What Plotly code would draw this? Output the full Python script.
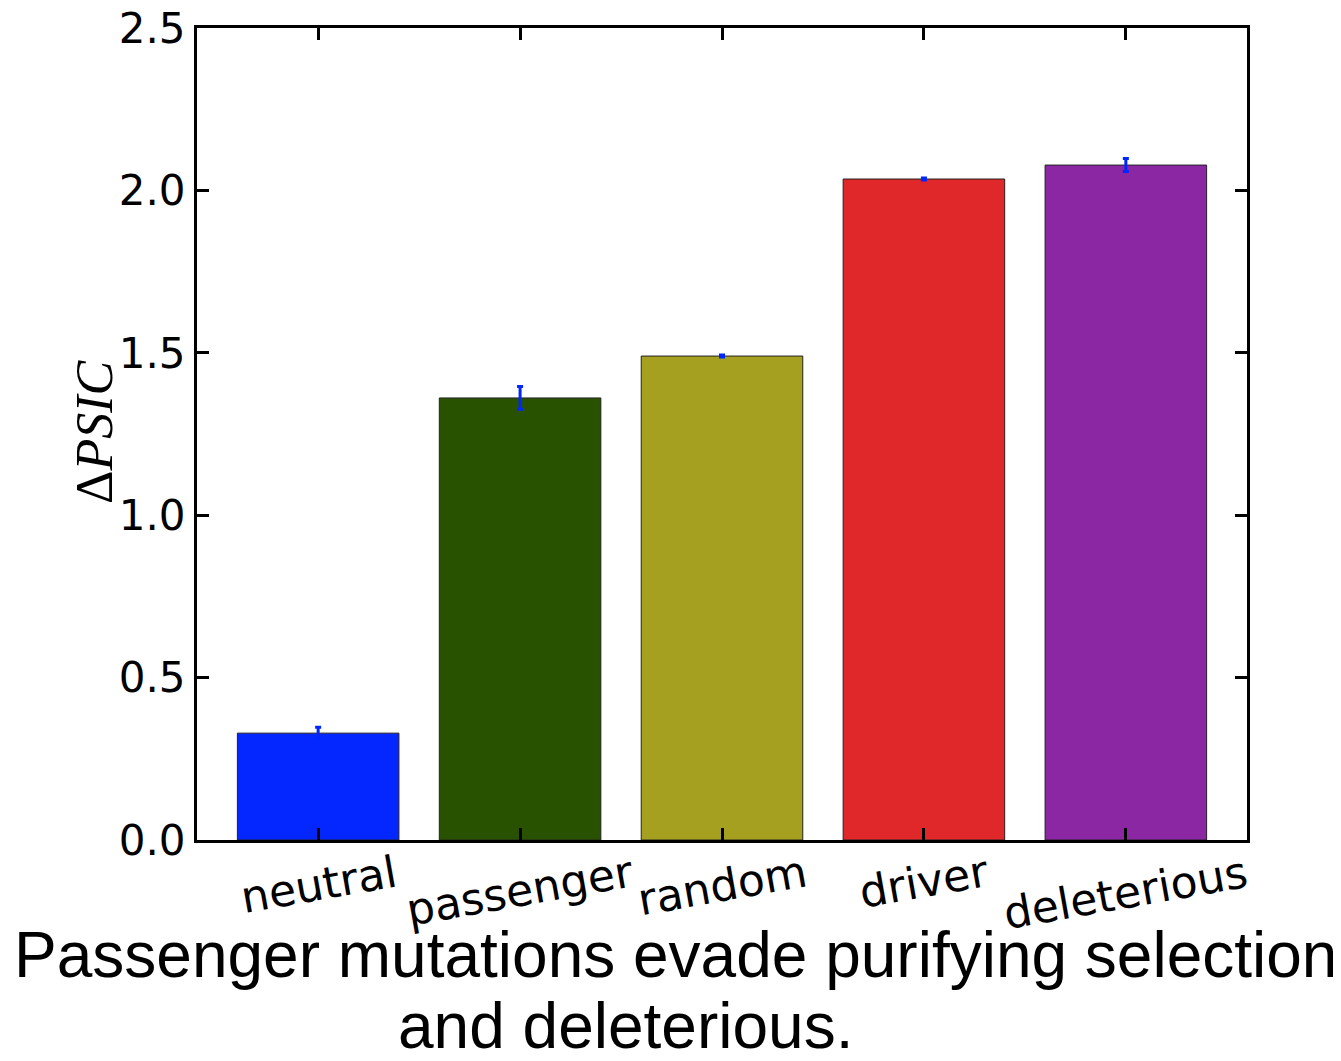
import plotly.graph_objects as go

categories = ["neutral", "passenger", "random", "driver", "deleterious"]
values = [0.329, 1.361, 1.490, 2.035, 2.078]
errors = [0.018, 0.035, 0.003, 0.003, 0.020]
colors = ["#0527FF", "#285200", "#A6A020", "#E0282A", "#8B27A3"]
y_ticks = [0.0, 0.5, 1.0, 1.5, 2.0, 2.5]
y_tick_text = ["0.0", "0.5", "1.0", "1.5", "2.0", "2.5"]
y_title = "Δ<i>PSIC</i>"
caption_line1 = "Passenger mutations evade purifying selection"
caption_line2 = "and deleterious."

OFF = 8  # page body margin offset
W, H = 1341 - OFF, 1061 - OFF
L, R, T, B = 197 - OFF, 1247 - OFF, 28 - OFF, 840 - OFF

fig = go.Figure()
fig.add_trace(go.Bar(
    x=categories, y=values,
    marker=dict(color=colors, line=dict(color="#222222", width=1)),
    width=0.8,
    error_y=dict(type="data", array=errors, visible=True,
                 color="#0026FF", thickness=3, width=3),
))

axis_common = dict(showline=True, linecolor="black", linewidth=3, mirror="ticks",
                   ticks="inside", ticklen=12, tickwidth=3, tickcolor="black",
                   showgrid=False, zeroline=False, automargin=False)

fig.update_xaxes(range=[-0.6, 4.6], showticklabels=False, **axis_common)
fig.update_yaxes(range=[0, 2.5], tickvals=y_ticks, ticktext=y_tick_text,
                 tickfont=dict(family="DejaVu Sans", size=42, color="black"),
                 ticklabelstandoff=0, ticklabeloverflow="allow",
                 **axis_common)

def px_x(px):
    return (px - OFF - L) / (R - L)

def px_y(py):
    return (B - (py - OFF)) / (B - T)

annotations = []
for c in categories:
    annotations.append(dict(x=c, xref="x", y=-0.004, yref="paper",
                            text=c, showarrow=False, textangle=-10,
                            xanchor="center", yanchor="top",
                            font=dict(family="DejaVu Sans", size=44, color="black")))

annotations.append(dict(x=px_x(95), xref="paper", y=px_y(432), yref="paper",
                        text=y_title, showarrow=False, textangle=-90,
                        xanchor="center", yanchor="middle",
                        font=dict(family="Liberation Serif", size=52, color="black")))

annotations.append(dict(x=px_x(12), xref="paper", y=px_y(955), yref="paper",
                        text=caption_line1, showarrow=False, xanchor="left", yanchor="middle",
                        font=dict(family="Liberation Sans", size=64, color="black")))
annotations.append(dict(x=px_x(625), xref="paper", y=px_y(1026), yref="paper",
                        text=caption_line2, showarrow=False, xanchor="center", yanchor="middle",
                        font=dict(family="Liberation Sans", size=64, color="black")))

fig.update_layout(
    width=W, height=H,
    margin=dict(l=L, r=W - R, t=T, b=H - B, pad=0),
    paper_bgcolor="white", plot_bgcolor="white",
    showlegend=False,
    annotations=annotations,
    bargap=0.2,
)

fig.write_html("out.html")
